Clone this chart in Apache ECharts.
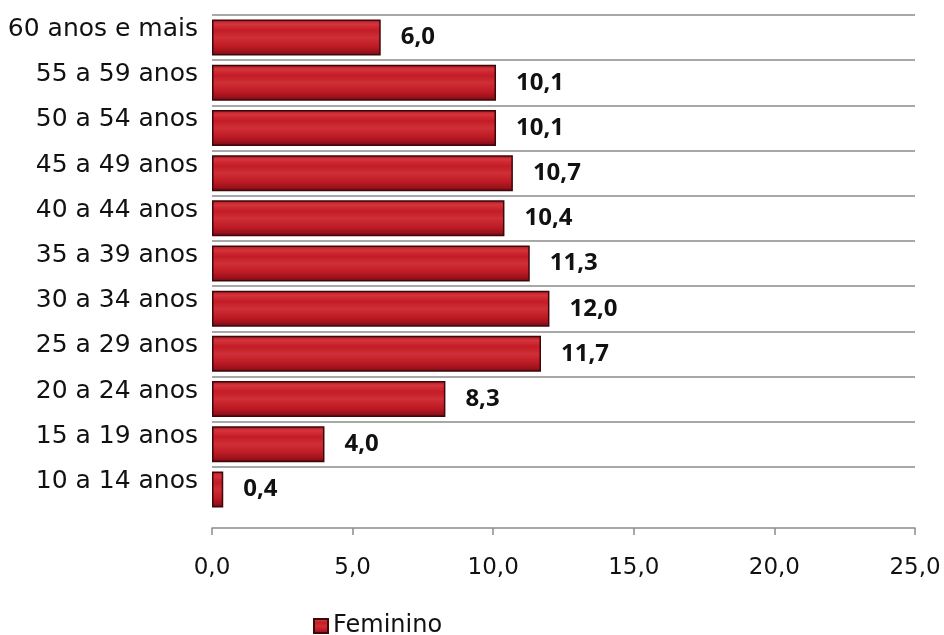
<!DOCTYPE html>
<html>
<head>
<meta charset="utf-8">
<script src="https://cdn.jsdelivr.net/npm/echarts@6/dist/echarts.min.js"></script>
<style>
html,body{margin:0;padding:0;background:#fff;}
#chart{width:944px;height:635px;}
</style>
</head>
<body>
<div id="chart"></div>
<script>
const categories = ['10 a 14 anos','15 a 19 anos','20 a 24 anos','25 a 29 anos','30 a 34 anos','35 a 39 anos','40 a 44 anos','45 a 49 anos','50 a 54 anos','55 a 59 anos','60 anos e mais'];
const feminino = [0.4, 4.0, 8.3, 11.7, 12.0, 11.3, 10.4, 10.7, 10.1, 10.1, 6.0];
const xTicks = [0, 5, 10, 15, 20, 25];

const fmt = v => Number(v).toFixed(1).replace('.', ',');
const FONT = '"DejaVu Sans", sans-serif';
const BOLD_FONT = '"Open Sans", sans-serif';

const splitColors = ['rgba(0,0,0,0)'];
for (let i = 0; i < categories.length; i++) splitColors.push('#a8a8a8');

const chart = echarts.init(document.getElementById('chart'), null, {renderer: 'canvas'});
chart.setOption({
  animation: false,
  backgroundColor: '#ffffff',
  textStyle: {fontFamily: FONT},
  grid: {left: 212, right: 29, top: 15, bottom: 123, containLabel: false},
  legend: {
    data: ['Feminino'],
    left: 308, top: 609,
    itemWidth: 14, itemHeight: 14, itemGap: 7,
    icon: 'rect',
    textStyle: {fontFamily: FONT, fontSize: 24, color: '#111'}
  },
  xAxis: {
    type: 'value',
    min: xTicks[0], max: xTicks[xTicks.length - 1], interval: 5,
    offset: 16,
    axisLine: {show: true, lineStyle: {color: '#8c8c8c', width: 1.5}},
    axisTick: {show: true, length: 7, lineStyle: {color: '#8c8c8c', width: 1.5}},
    splitLine: {show: false},
    axisLabel: {
      formatter: v => fmt(v),
      fontFamily: FONT, fontSize: 23, color: '#111', margin: 29
    }
  },
  yAxis: {
    type: 'category',
    data: categories,
    axisLine: {show: false},
    axisTick: {show: false},
    splitLine: {show: true, lineStyle: {color: splitColors, width: 2}},
    axisLabel: {
      fontFamily: FONT, fontSize: 25, color: '#111', margin: 14,
      verticalAlign: 'bottom', lineHeight: 16
    }
  },
  series: [{
    name: 'Feminino',
    type: 'bar',
    data: feminino,
    barWidth: 36,
    itemStyle: {
      color: new echarts.graphic.LinearGradient(0, 0, 0, 1, [
        {offset: 0, color: '#a8141d'},
        {offset: 0.12, color: '#d6343c'},
        {offset: 0.3, color: '#c31c26'},
        {offset: 0.5, color: '#cf2f37'},
        {offset: 0.75, color: '#bd1a24'},
        {offset: 0.9, color: '#9a121b'},
        {offset: 1, color: '#640a11'}
      ]),
      borderColor: '#3e070b',
      borderWidth: 1.5
    },
    label: {
      show: true,
      position: 'right',
      distance: 20,
      formatter: p => fmt(p.value),
      fontFamily: BOLD_FONT, fontSize: 24, fontWeight: 'bold', color: '#111'
    }
  }]
});
</script>
</body>
</html>
